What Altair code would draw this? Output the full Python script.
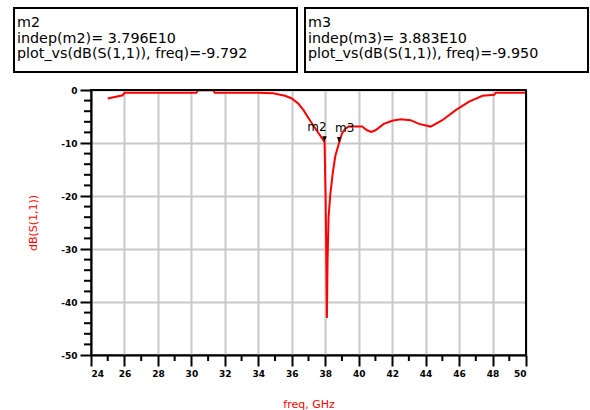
import altair as alt
import pandas as pd

# S11 sweep (GHz, dB)
freq = [25.0, 25.9, 26.0, 28.0, 30.3, 30.4, 31.3, 31.4, 34.0, 34.9, 35.3, 35.6,
        36.0, 36.4, 36.7, 37.1, 37.5, 37.96, 38.02, 38.06, 38.1, 38.14, 38.2,
        38.3, 38.45, 38.6, 38.83, 39.0, 39.2, 39.4, 40.2, 40.5, 40.75, 41.0,
        41.5, 42.0, 42.5, 43.1, 43.6, 44.3, 45.0, 45.8, 46.6, 47.4, 48.1,
        48.2, 50.0]
s11_db = [-1.6, -1.0, -0.5, -0.5, -0.5, -0.05, -0.05, -0.5, -0.5, -0.6, -0.9,
          -1.1, -1.6, -2.6, -3.8, -5.8, -7.7, -9.792, -20.0, -30.0, -43.0,
          -32.0, -24.0, -19.8, -15.7, -12.5, -9.950, -8.2, -7.3, -6.9, -6.9,
          -7.6, -7.9, -7.6, -6.4, -5.8, -5.5, -5.7, -6.4, -6.9, -5.7, -3.8,
          -2.2, -1.1, -0.9, -0.5, -0.5]

# markers
marker_names = ["m2", "m3"]
marker_freq = [37.96, 38.83]
marker_db = [-9.792, -9.950]

x_major = list(range(24, 51, 2))
x_minor = list(range(25, 50, 2))
y_major = list(range(-50, 1, 10))
y_minor = [v for v in range(-48, 0, 2) if v % 10 != 0]

W, H = 435, 265
FONT = "DejaVu Sans"

curve = pd.DataFrame({"freq": freq, "db": s11_db})
markers = pd.DataFrame({"name": marker_names, "freq": marker_freq, "db": marker_db})

xs = alt.Scale(domain=[24, 50], nice=False, zero=False)
ys = alt.Scale(domain=[-50, 0], nice=False, zero=False)

x_axis = alt.Axis(values=x_major, title="freq, GHz", grid=True,
                  gridColor="#c8c8c8", gridWidth=2, domainColor="black",
                  domainWidth=2, tickColor="black", tickWidth=2, tickSize=11,
                  labelFont=FONT, labelFontSize=9, labelFontWeight="bold",
                  labelColor="black", labelPadding=3, labelOverlap=False,
                  labelExpr="'' + datum.value",
                  titleFont=FONT, titleFontSize=11, titleColor="red",
                  titleFontWeight="normal", titlePadding=20)
y_axis = alt.Axis(values=y_major, title="dB(S(1,1))", grid=True,
                  gridColor="#c8c8c8", gridWidth=2, domainColor="black",
                  domainWidth=2, tickColor="black", tickWidth=2, tickSize=11,
                  labelFont=FONT, labelFontSize=9, labelFontWeight="bold",
                  labelColor="black", labelPadding=3, labelOverlap=False,
                  labelExpr="'' + datum.value",
                  titleFont=FONT, titleFontSize=11, titleColor="red",
                  titleFontWeight="normal", titlePadding=22)


def fx(field):
    return alt.X(field, scale=xs, axis=x_axis)


def fy(field):
    return alt.Y(field, scale=ys, axis=y_axis)


line = alt.Chart(curve).mark_line(color="red", strokeWidth=2, clip=True).encode(
    x=fx("freq:Q"), y=fy("db:Q"))

# frame on the top and right edges of the plot
frame_top = alt.Chart(pd.DataFrame({"k": [0]})).mark_rule(
    color="black", strokeWidth=2).encode(
    x=alt.value(0), x2=alt.value(W), y=alt.value(0))
frame_right = alt.Chart(pd.DataFrame({"k": [0]})).mark_rule(
    color="black", strokeWidth=2).encode(
    x=alt.value(W), y=alt.value(0), y2=alt.value(H))

# minor ticks
xminor = alt.Chart(pd.DataFrame({"v": x_minor})).mark_rule(
    color="black", strokeWidth=2).encode(
    x=fx("v:Q"), y=alt.value(H), y2=alt.value(H + 6))
yminor = alt.Chart(pd.DataFrame({"v": y_minor})).mark_rule(
    color="black", strokeWidth=2).encode(
    y=fy("v:Q"), x=alt.value(-7), x2=alt.value(0))

tri = "M-0.7,-1.8L0.7,-1.8L0,0Z"
mk = alt.Chart(markers).mark_point(shape=tri, filled=True, color="black",
                                   size=40, opacity=1).encode(
    x=fx("freq:Q"), y=fy("db:Q"))
mk_lab_l = alt.Chart(markers).transform_filter(alt.datum.name == "m2").mark_text(
    font=FONT, fontSize=12, color="black", baseline="bottom", align="right",
    dy=-8, dx=2).encode(x=fx("freq:Q"), y=fy("db:Q"), text="name:N")
mk_lab_r = alt.Chart(markers).transform_filter(alt.datum.name == "m3").mark_text(
    font=FONT, fontSize=12, color="black", baseline="bottom", align="left",
    dy=-8, dx=-4).encode(x=fx("freq:Q"), y=fy("db:Q"), text="name:N")

# readout boxes above the plot
boxes = pd.DataFrame({
    "x0": [-77, 214], "x1": [206, 497],
    "line1": ["m2", "m3"],
    "line2": ["indep(m2)= 3.796E10", "indep(m3)= 3.883E10"],
    "line3": ["plot_vs(dB(S(1,1)), freq)=-9.792",
              "plot_vs(dB(S(1,1)), freq)=-9.950"],
})
box_layers = []
for i in range(2):
    row = boxes.iloc[[i]]
    box_layers.append(alt.Chart(row).mark_rect(
        fill="white", stroke="black", strokeWidth=2).encode(
        x=alt.value(float(row.x0.iloc[0])), x2=alt.value(float(row.x1.iloc[0])),
        y=alt.value(-82), y2=alt.value(-18)))
    for col, yy in [("line1", -67), ("line2", -51), ("line3", -36)]:
        box_layers.append(alt.Chart(row).mark_text(
            font=FONT, fontSize=14.3, color="black", align="left",
            baseline="middle").encode(
            x=alt.value(float(row.x0.iloc[0]) + 3), y=alt.value(yy),
            text=f"{col}:N"))

chart = alt.layer(line, xminor, yminor, frame_top, frame_right, mk,
                  mk_lab_l, mk_lab_r, *box_layers).properties(
    width=W, height=H,
    autosize=alt.AutoSizeParams(type="none"),
    padding={"left": 91, "top": 90, "right": 64, "bottom": 55},
).configure(
    background="white",
    view=alt.ViewConfig(stroke="black", strokeWidth=2),
)

chart.save("out.html", embed_options={"renderer": "svg", "actions": False})
